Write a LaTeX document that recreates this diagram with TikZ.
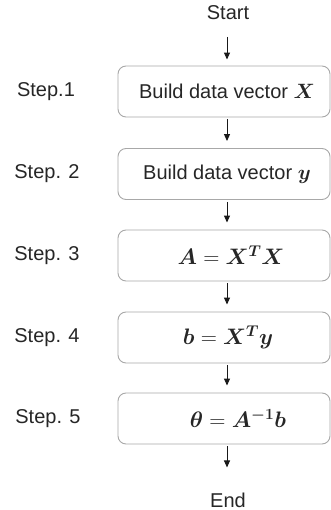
\documentclass[tikz,border=0pt]{standalone}
\usepackage{fontspec}
\setmainfont{Liberation Sans}
\usepackage{bm}
\usetikzlibrary{arrows.meta}
\definecolor{txt}{HTML}{262626}
\definecolor{boxline}{HTML}{A8A8A8}
\begin{document}
\begin{tikzpicture}[x=1pt,y=-1pt,
  font=\fontsize{20}{24}\selectfont,
  stepbox/.style={draw=boxline, line width=0.9pt, rounded corners=8pt,
    minimum width=212pt, minimum height=51pt, inner sep=0pt},
  plain/.style={text=txt, inner sep=0pt},
  arr/.style={draw=black!90, line width=1pt, -{Triangle[length=7pt,width=6pt]},
    shorten <=2pt, shorten >=7pt}]
\useasboundingbox (0,0) rectangle (331,510);
% boxes
\node[stepbox] (b1) at (224,91.5) {};
\node[stepbox] (b2) at (224,174) {};
\node[stepbox] (b3) at (224,255.5) {};
\node[stepbox] (b4) at (224,337.5) {};
\node[stepbox] (b5) at (224,418.5) {};
% box texts
\node[plain] (t1) at (227,91.5) {Build data vector $\bm{X}$};
\node[plain] (t2) at (227,174) {Build data vector $\bm{y}$};
\node[plain, scale=1.08] (t3) at (231,255.5) {$\bm{A}=\bm{X}^{\bm{T}}\bm{X}$};
\node[plain, scale=1.08] (t4) at (228,337.5) {$\bm{b}=\bm{X}^{\bm{T}}\bm{y}$};
\node[plain, scale=1.08] (t5) at (238,418.5) {$\bm{\theta}=\bm{A}^{\bm{-1}}\bm{b}$};
% step labels
\node[plain] (s1) at (46,91.5) {Step.1};
\node[plain] (s2) at (47,174) {Step. 2};
\node[plain] (s3) at (47,255.5) {Step. 3};
\node[plain] (s4) at (47,337.5) {Step. 4};
\node[plain] (s5) at (48,418.5) {Step. 5};
% start / end
\node[plain] (start) at (228,12.5) {Start};
\node[plain] (end) at (228,500) {End};
% arrows
\draw[arr, shorten <=17pt, shorten >=6pt] ([xshift=-1pt]start.south) -- ([xshift=3pt]b1.north);
\draw[arr] ([xshift=3pt]b1.south) -- ([xshift=3pt]b2.north);
\draw[arr] ([xshift=3pt]b2.south) -- ([xshift=3pt]b3.north);
\draw[arr] ([xshift=3pt]b3.south) -- ([xshift=3pt]b4.north);
\draw[arr] ([xshift=3pt]b4.south) -- ([xshift=3pt]b5.north);
\draw[arr, shorten >=25pt] ([xshift=3pt]b5.south) -- ([xshift=-1pt]end.north);
\end{tikzpicture}
\end{document}
